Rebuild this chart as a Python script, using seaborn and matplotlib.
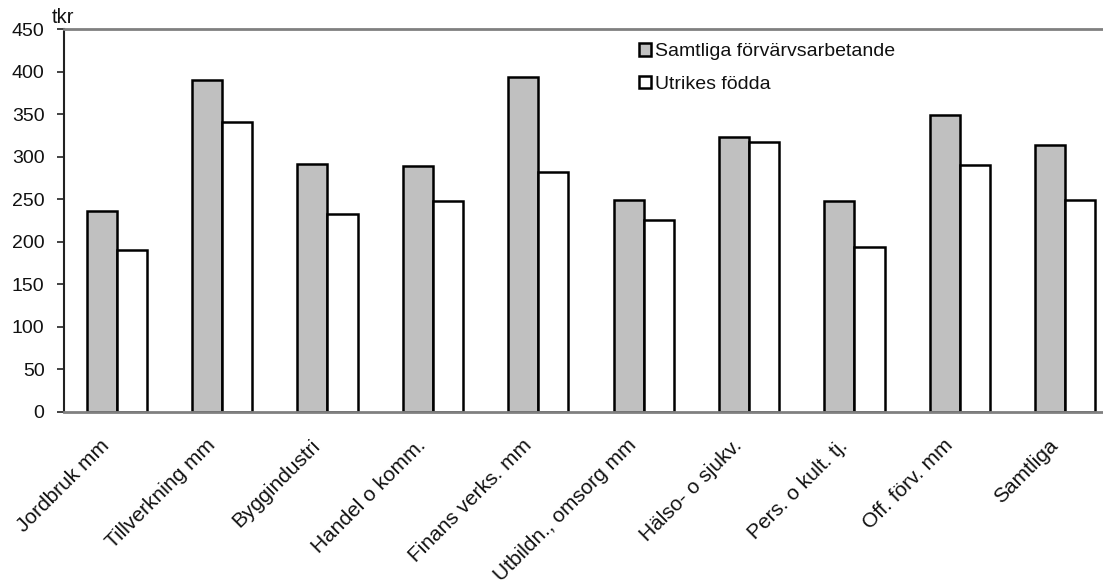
"""
Inkomst per bransch: samtliga förvärvsarbetande vs utrikes födda (tkr).
"""

import pandas as pd
import matplotlib
matplotlib.use("Agg")
import matplotlib.pyplot as plt
import matplotlib.transforms as mtransforms
import seaborn as sns

branscher = ['Jordbruk mm', 'Tillverkning mm', 'Byggindustri', 'Handel o komm.',
             'Finans verks. mm', 'Utbildn., omsorg mm', 'Hälso- o sjukv.',
             'Pers. o kult. tj.', 'Off. förv. mm', 'Samtliga']
samtliga = [236, 390, 291, 289, 393, 249, 323, 248, 349, 314]
utrikes = [190, 341, 233, 248, 282, 225, 317, 194, 290, 249]
serier = ['Samtliga förvärvsarbetande', 'Utrikes födda']
y_ticks = [0, 50, 100, 150, 200, 250, 300, 350, 400, 450]


def build_frame():
    df = pd.DataFrame({'bransch': branscher * 2,
                       'serie': [serier[0]] * len(branscher) + [serier[1]] * len(branscher),
                       'tkr': samtliga + utrikes})
    return df


def main():
    sns.set_style('white')
    plt.rcParams['font.family'] = ['Liberation Sans', 'DejaVu Sans']

    fig = plt.figure(figsize=(11.03, 5.8), dpi=100)
    # axes run a little past the right edge, like the cropped original
    ax = fig.add_axes([0.058, 0.29, 0.9556, 0.66])

    sns.barplot(data=build_frame(), x='bransch', y='tkr', hue='serie',
                palette=['#c0c0c0', '#ffffff'], edgecolor='black', linewidth=1.8,
                width=0.57, gap=0, ax=ax)

    ax.set_ylim(0, 450)
    ax.set_yticks(y_ticks)
    ax.set_yticklabels([str(t) for t in y_ticks], fontsize=14, color='#111111')
    ax.set_xlim(-0.5, len(branscher) - 0.5)
    ax.set_xlabel('')
    ax.set_ylabel('')
    ax.tick_params(axis='y', length=5, width=1.2, color='#222222', left=True, pad=9)
    ax.tick_params(axis='x', length=0, pad=22)
    shift = mtransforms.ScaledTranslation(-10 / 100, 0, fig.dpi_scale_trans)
    for lab in ax.get_xticklabels():
        lab.set_rotation(45)
        lab.set_ha('right')
        lab.set_va('center')
        lab.set_rotation_mode('anchor')
        lab.set_fontsize(15)
        lab.set_color('#111111')
        lab.set_transform(lab.get_transform() + shift)

    ax.spines['left'].set_color('#222222')
    ax.spines['left'].set_linewidth(1.5)
    ax.spines['top'].set_color('#808080')
    ax.spines['top'].set_linewidth(2)
    ax.spines['bottom'].set_color('#808080')
    ax.spines['bottom'].set_linewidth(2)
    ax.spines['right'].set_visible(False)

    ax.text(-0.012, 1.004, 'tkr', transform=ax.transAxes, fontsize=14.5,
            ha='left', va='bottom', color='#111111')

    leg = ax.legend(loc='upper left', bbox_to_anchor=(0.529, 1.008), frameon=False,
                    fontsize=14, handlelength=0.6, handleheight=0.6,
                    handletextpad=0.2, labelspacing=0.8)
    for h in leg.legend_handles:
        h.set_linewidth(1.8)
        h.set_edgecolor('black')
    for t in leg.get_texts():
        t.set_color('#111111')

    fig.savefig('out.png', dpi=100)


if __name__ == '__main__':
    main()
